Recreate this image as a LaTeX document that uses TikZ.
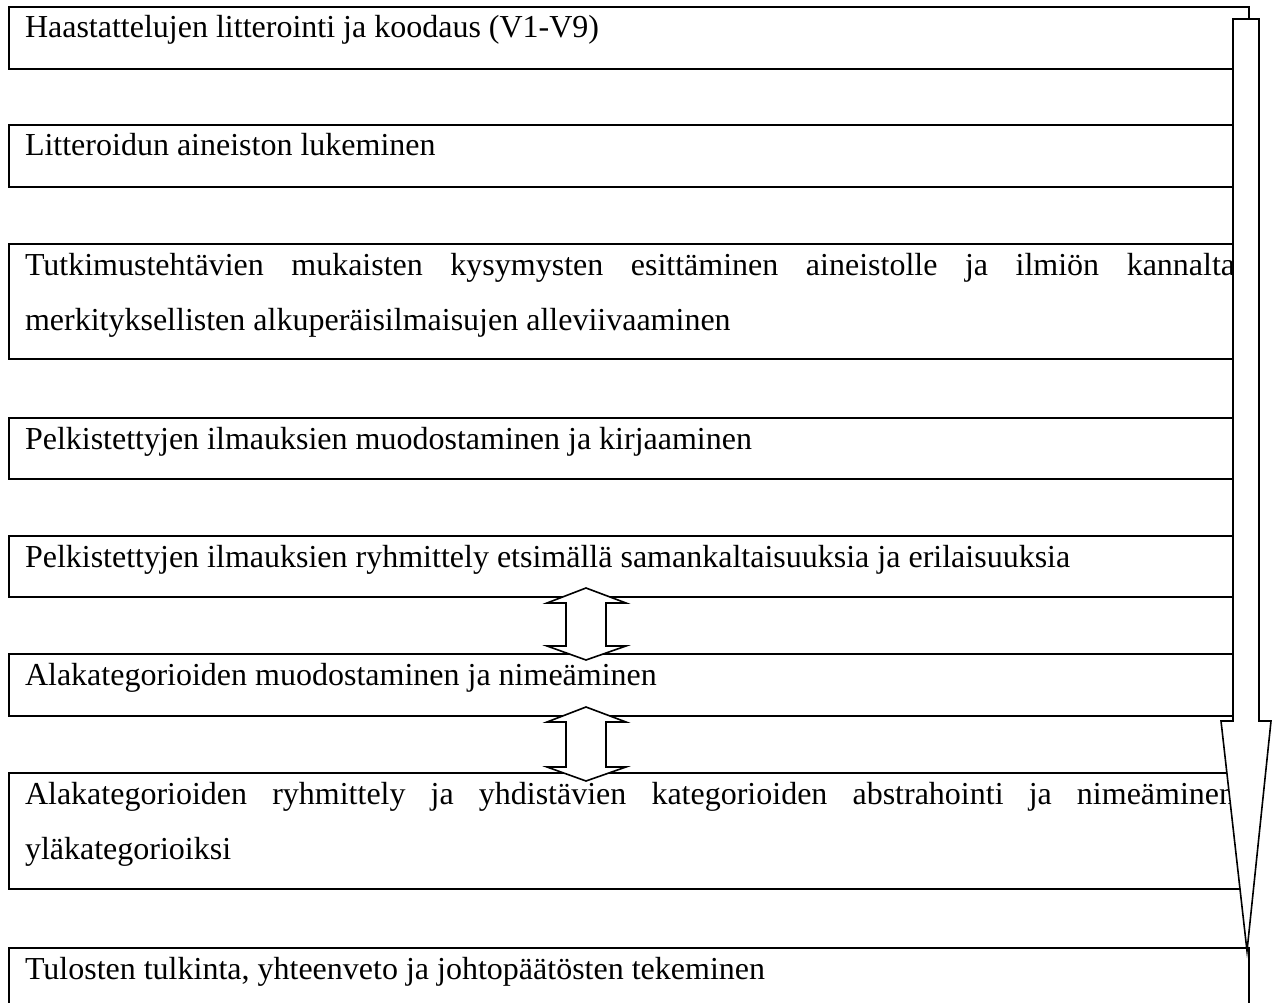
\documentclass[tikz,border=0pt]{standalone}
\usepackage{fontspec}
\setmainfont{Liberation Serif}
\usetikzlibrary{calc}
\begin{document}
\begin{tikzpicture}[x=1pt,y=-1pt,
  stepbox/.style={draw, line width=1.8pt, minimum width=1240pt, inner sep=0pt, outer sep=0pt, anchor=north west},
  txt/.style={anchor=base west, inner sep=0pt, outer sep=0pt, font=\fontsize{32}{55}\selectfont},
  para/.style={txt, text width=1210pt, align=justify},
  arrowshape/.style={draw, fill=white, line width=1.6pt, line join=miter}]
\useasboundingbox (0,0) rectangle (1277,1003);
\clip (0,0) rectangle (1277,1003);
% boxes
\node[stepbox, minimum height=62pt] (b1) at (9,7) {};
\node[stepbox, minimum height=62pt] (b2) at (9,125) {};
\node[stepbox, minimum height=115pt] (b3) at (9,244) {};
\node[stepbox, minimum height=61pt] (b4) at (9,418) {};
\node[stepbox, minimum height=61pt] (b5) at (9,536) {};
\node[stepbox, minimum height=62pt] (b6) at (9,654) {};
\node[stepbox, minimum height=116pt] (b7) at (9,773) {};
\node[stepbox, minimum height=80pt] (b8) at (9,948) {};
% texts
\node[txt] (t1) at ($(b1.north west)+(16,31)$) {Haastattelujen litterointi ja koodaus (V1-V9)};
\node[txt] (t2) at ($(b2.north west)+(16,31)$) {Litteroidun aineiston lukeminen};
\node[para] (t3) at ($(b3.north west)+(16,31)$) {\hyphenpenalty=10000 Tutkimustehtävien mukaisten kysymysten esittäminen aineistolle ja ilmiön kannalta\linebreak merkityksellisten alkuperäisilmaisujen alleviivaaminen};
\node[txt] (t4) at ($(b4.north west)+(16,31)$) {Pelkistettyjen ilmauksien muodostaminen ja kirjaaminen};
\node[txt] (t5) at ($(b5.north west)+(16,31)$) {Pelkistettyjen ilmauksien ryhmittely etsimällä samankaltaisuuksia ja erilaisuuksia};
\node[txt] (t6) at ($(b6.north west)+(16,31)$) {Alakategorioiden muodostaminen ja nimeäminen};
\node[para] (t7) at ($(b7.north west)+(16,31)$) {\hyphenpenalty=10000 Alakategorioiden ryhmittely ja yhdistävien kategorioiden abstrahointi ja nimeäminen\linebreak yläkategorioiksi};
\node[txt] (t8) at ($(b8.north west)+(16,31)$) {Tulosten tulkinta, yhteenveto ja johtopäätösten tekeminen};
% double arrows between boxes
\draw[arrowshape] (586,588) -- (626,603) -- (606,603) -- (606,646) -- (626,646) -- (586,660)
  -- (547,646) -- (566,646) -- (566,603) -- (547,603) -- cycle;
\draw[arrowshape] (586,707) -- (626,722) -- (606,722) -- (606,767) -- (626,767) -- (586,781)
  -- (547,767) -- (566,767) -- (566,722) -- (547,722) -- cycle;
% big process arrow
\draw[arrowshape] (1233,19) -- (1259,19) -- (1259,721) -- (1271,721) -- (1247,951)
  -- (1221,721) -- (1233,721) -- cycle;
\end{tikzpicture}
\end{document}
